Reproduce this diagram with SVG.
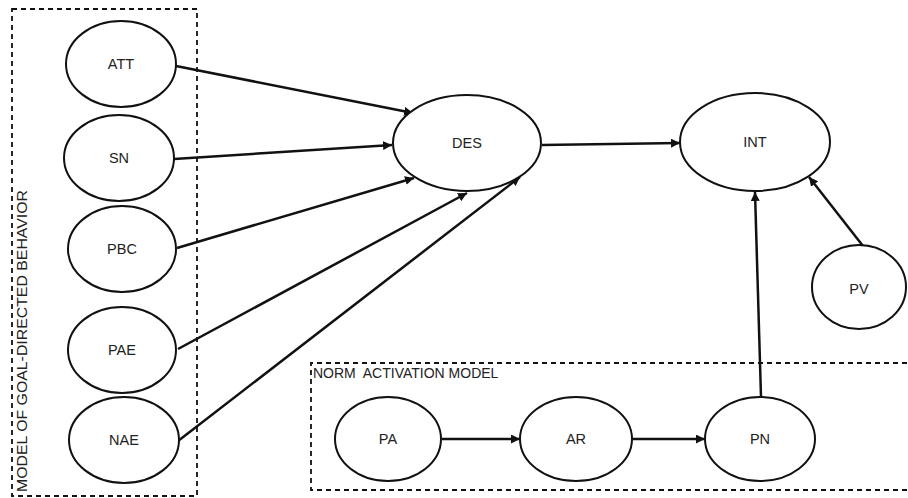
<svg xmlns="http://www.w3.org/2000/svg" width="908" height="498" viewBox="0 0 908 498">
  <style>
    .node ellipse { fill: #ffffff; stroke: #111111; stroke-width: 2; }
    .node text { font-family: "Liberation Sans", Arial, sans-serif; font-size: 14.5px; fill: #222222; text-anchor: middle; dominant-baseline: central; }
    .frame { fill: none; stroke: #111111; stroke-width: 1.8; stroke-dasharray: 5 4; }
    .frame-label { font-family: "Liberation Sans", Arial, sans-serif; font-size: 14px; fill: #222222; white-space: pre; }
    .edges line { stroke: #111111; stroke-width: 2.5; marker-end: url(#arrow); }
  </style>
  <defs>
    <marker id="arrow" viewBox="0 0 10 10" refX="10" refY="5" markerWidth="3.6" markerHeight="3.6" orient="auto" markerUnits="strokeWidth">
      <path d="M0,0 L10,5 L0,10 Z" fill="#111111"/>
    </marker>
  </defs>
  <rect width="908" height="498" fill="#ffffff"/>

  <!-- grouping frames -->
  <g id="frame-mgb">
    <rect class="frame" x="12" y="9" width="185" height="487"/>
    <text class="frame-label" transform="translate(27,492) rotate(-90)" textLength="302" lengthAdjust="spacingAndGlyphs">MODEL OF GOAL-DIRECTED BEHAVIOR</text>
  </g>
  <g id="frame-nam">
    <path class="frame" d="M907,363 H311 V490 H907"/>
    <text class="frame-label" x="313" y="378">NORM  ACTIVATION MODEL</text>
  </g>

  <!-- connectors -->
  <g class="edges">
    <line x1="176" y1="66" x2="413" y2="113"/>
    <line x1="174" y1="159" x2="392" y2="145"/>
    <line x1="177" y1="248" x2="414" y2="178"/>
    <line x1="178" y1="349" x2="467" y2="193"/>
    <line x1="178" y1="441" x2="520" y2="177"/>
    <line x1="542" y1="145" x2="680" y2="143"/>
    <line x1="863" y1="246" x2="809" y2="177"/>
    <line x1="761" y1="397" x2="755" y2="192"/>
    <line x1="442" y1="439" x2="520" y2="439"/>
    <line x1="632" y1="439" x2="705" y2="439"/>
  </g>

  <!-- nodes -->
  <g id="ATT" class="node"><ellipse cx="121" cy="64" rx="55" ry="43"/><text x="121" y="64">ATT</text></g>
  <g id="SN" class="node"><ellipse cx="119" cy="158" rx="55" ry="43"/><text x="119" y="158">SN</text></g>
  <g id="PBC" class="node"><ellipse cx="122" cy="249" rx="54" ry="43"/><text x="122" y="249">PBC</text></g>
  <g id="PAE" class="node"><ellipse cx="122" cy="350" rx="54" ry="43"/><text x="122" y="350">PAE</text></g>
  <g id="NAE" class="node"><ellipse cx="124" cy="440" rx="55" ry="43"/><text x="124" y="440">NAE</text></g>
  <g id="DES" class="node"><ellipse cx="467" cy="143" rx="74" ry="48"/><text x="467" y="143">DES</text></g>
  <g id="INT" class="node"><ellipse cx="755" cy="142" rx="75" ry="49"/><text x="755" y="142">INT</text></g>
  <g id="PV" class="node"><ellipse cx="859" cy="287" rx="47" ry="42"/><text x="859" y="289">PV</text></g>
  <g id="PA" class="node"><ellipse cx="388" cy="439" rx="53" ry="42"/><text x="388" y="439">PA</text></g>
  <g id="AR" class="node"><ellipse cx="576" cy="439" rx="56" ry="42"/><text x="576" y="439">AR</text></g>
  <g id="PN" class="node"><ellipse cx="760" cy="439" rx="55" ry="42"/><text x="760" y="439">PN</text></g>
</svg>
